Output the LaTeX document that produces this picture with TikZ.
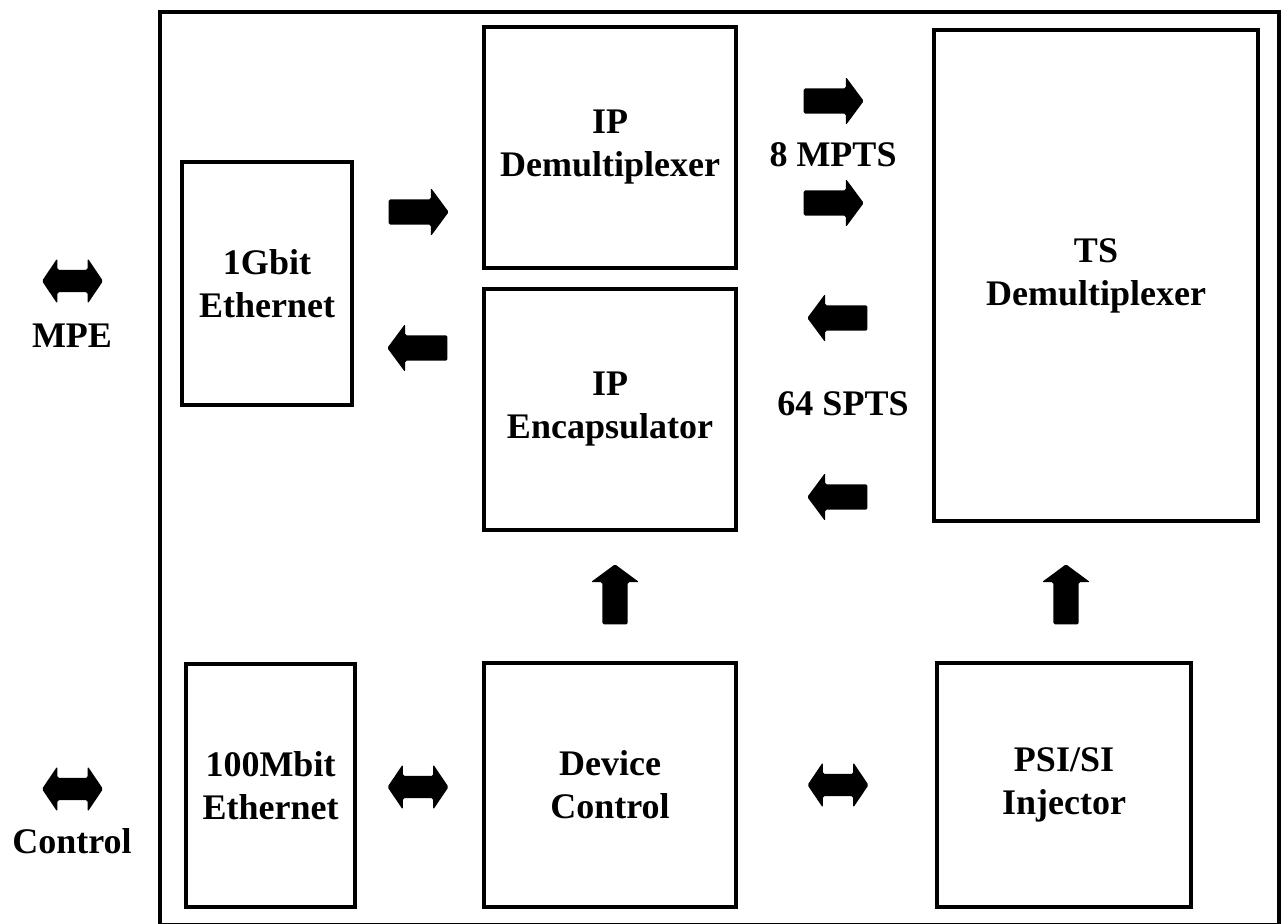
\documentclass[tikz,border=0pt]{standalone}
\usepackage{fontspec}
\setmainfont{Liberation Serif}
\usetikzlibrary{shapes.arrows}

\begin{document}
\begin{tikzpicture}[x=1pt, y=-1pt, font=\fontsize{36}{43}\selectfont\bfseries,
    block/.style={rectangle, draw, line width=4pt, inner sep=0pt, align=center},
    onearrow/.style={single arrow, fill, inner xsep=0pt, inner ysep=12.5pt, minimum height=60pt, single arrow head extend=11.5pt, single arrow tip angle=107, rounded corners=1.5pt},
    twoarrow/.style={double arrow, fill, inner xsep=0pt, inner ysep=11pt, minimum height=61pt, double arrow head extend=11.5pt, double arrow tip angle=112, rounded corners=1.5pt}]
    \useasboundingbox (0,0) rectangle (1284,923);
    \draw[line width=4pt] (160,12) rectangle (1279,925);

    \node[block, minimum width=170pt, minimum height=243pt] (gbit) at (267,283.5) {1Gbit\\Ethernet};
    \node[block, minimum width=252pt, minimum height=241pt] (ipdemux) at (610,147.5) {IP\\Demultiplexer};
    \node[block, minimum width=252pt, minimum height=241pt] (ipencap) at (610,409.5) {IP\\Encapsulator};
    \node[block, minimum width=324pt, minimum height=491pt] (tsdemux) at (1096,275.5) {TS\\Demultiplexer};
    \node[block, minimum width=169pt, minimum height=243pt] (mbit) at (270.5,785.5) {100Mbit\\Ethernet};
    \node[block, minimum width=252pt, minimum height=244pt] (devctl) at (610,785) {Device\\Control};
    \node[block, minimum width=254pt, minimum height=244pt] (psisi) at (1064,785) {PSI/SI\\Injector};

    \node[twoarrow] (mpearrow) at (72.5,281) {};
    \node (mpe) at (72,336) {MPE};
    \node[twoarrow] (ctlarrow) at (72.5,789) {};
    \node (ctl) at (72,841) {Control};

    \node[onearrow] (gbitin) at (414,212) {};
    \node[onearrow, rotate=180] (gbitout) at (422,348) {};
    \node[onearrow] (mpts1) at (829,101) {};
    \node[onearrow] (mpts2) at (829,203) {};
    \node (mpts) at (833,155) {8 MPTS};
    \node[onearrow, rotate=180] (spts1) at (842,318) {};
    \node[onearrow, rotate=180] (spts2) at (842,497) {};
    \node (spts) at (843,404) {64 SPTS};
    \node[onearrow, rotate=90] (ctlup) at (615,599) {};
    \node[onearrow, rotate=90] (psiup) at (1066,599) {};
    \node[twoarrow] (mbitctl) at (418,787) {};
    \node[twoarrow] (ctlpsi) at (838,785) {};
  \end{tikzpicture}
\end{document}
